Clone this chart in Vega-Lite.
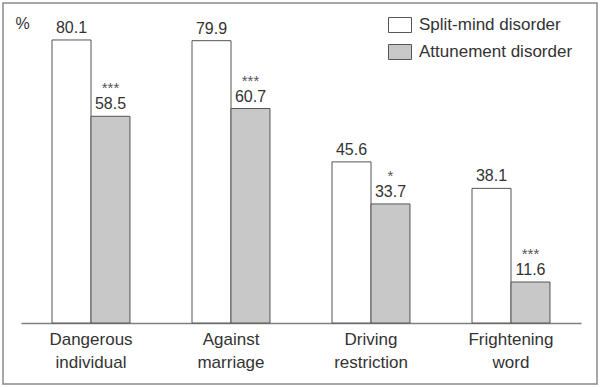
{
  "$schema": "https://vega.github.io/schema/vega-lite/v6.json",
  "autosize": {"type": "none"},
  "padding": {"left": 3, "top": 3, "right": 3, "bottom": 3},
  "width": 594,
  "height": 381,
  "config": {
    "view": {"stroke": "#8a8a8a", "strokeWidth": 1.5},
    "font": "Liberation Sans",
    "text": {"font": "Liberation Sans"}
  },
  "data": {
    "values": [
      {"item": "Dangerous individual", "group": "Split-mind disorder", "value": 80.1, "sig": ""},
      {"item": "Dangerous individual", "group": "Attunement disorder", "value": 58.5, "sig": "***"},
      {"item": "Against marriage", "group": "Split-mind disorder", "value": 79.9, "sig": ""},
      {"item": "Against marriage", "group": "Attunement disorder", "value": 60.7, "sig": "***"},
      {"item": "Driving restriction", "group": "Split-mind disorder", "value": 45.6, "sig": ""},
      {"item": "Driving restriction", "group": "Attunement disorder", "value": 33.7, "sig": "*"},
      {"item": "Frightening word", "group": "Split-mind disorder", "value": 38.1, "sig": ""},
      {"item": "Frightening word", "group": "Attunement disorder", "value": 11.6, "sig": "***"}
    ]
  },
  "encoding": {
    "x": {
      "field": "item", "type": "nominal", "sort": null,
      "scale": {"range": [18, 578], "paddingInner": 0.443, "paddingOuter": 0.2215},
      "axis": {
        "title": null, "orient": "bottom", "offset": -61,
        "domainColor": "#808080", "domainWidth": 1.5,
        "ticks": false, "labelAngle": 0,
        "labelFont": "Liberation Sans", "labelFontSize": 17, "labelColor": "#333333",
        "labelPadding": 8, "labelLineHeight": 23, "labelBaseline": "top",
        "labelExpr": "split(datum.label, ' ')"
      }
    },
    "xOffset": {
      "field": "group", "type": "nominal",
      "sort": ["Split-mind disorder", "Attunement disorder"],
      "scale": {"paddingInner": 0, "paddingOuter": 0}
    },
    "y": {
      "field": "value", "type": "quantitative",
      "scale": {"domain": [0, 90], "range": [320, 2], "nice": false},
      "axis": {
        "labels": false, "ticks": false, "domain": false, "grid": false,
        "title": "%", "titleAngle": 0, "titleX": 19, "titleY": 20,
        "titleAlign": "center", "titleBaseline": "middle",
        "titleFont": "Liberation Sans", "titleFontSize": 16, "titleFontWeight": "normal", "titleColor": "#333333"
      }
    }
  },
  "layer": [
    {
      "mark": {"type": "bar", "stroke": "#555555", "strokeWidth": 1},
      "encoding": {
        "fill": {
          "field": "group", "type": "nominal",
          "sort": ["Split-mind disorder", "Attunement disorder"],
          "scale": {"domain": ["Split-mind disorder", "Attunement disorder"], "range": ["#ffffff", "#c8c8c8"]},
          "legend": {
            "title": null, "orient": "none", "legendX": 385, "legendY": 10,
            "padding": 0, "rowPadding": 5,
            "symbolType": "M-1,-0.652H1V0.652H-1Z", "symbolSize": 529,
            "symbolStrokeColor": "#555555", "symbolStrokeWidth": 1, "symbolOpacity": 1,
            "labelFont": "Liberation Sans", "labelFontSize": 17, "labelColor": "#333333",
            "labelOffset": 7, "labelLimit": 300
          }
        }
      }
    },
    {
      "mark": {"type": "text", "baseline": "alphabetic", "dy": -7, "fontSize": 16, "color": "#333333"},
      "encoding": {"text": {"field": "value", "type": "quantitative", "format": ".1f"}}
    },
    {
      "mark": {"type": "text", "baseline": "alphabetic", "dy": -23, "fontSize": 15, "color": "#555555"},
      "encoding": {"text": {"field": "sig", "type": "nominal"}}
    }
  ]
}
